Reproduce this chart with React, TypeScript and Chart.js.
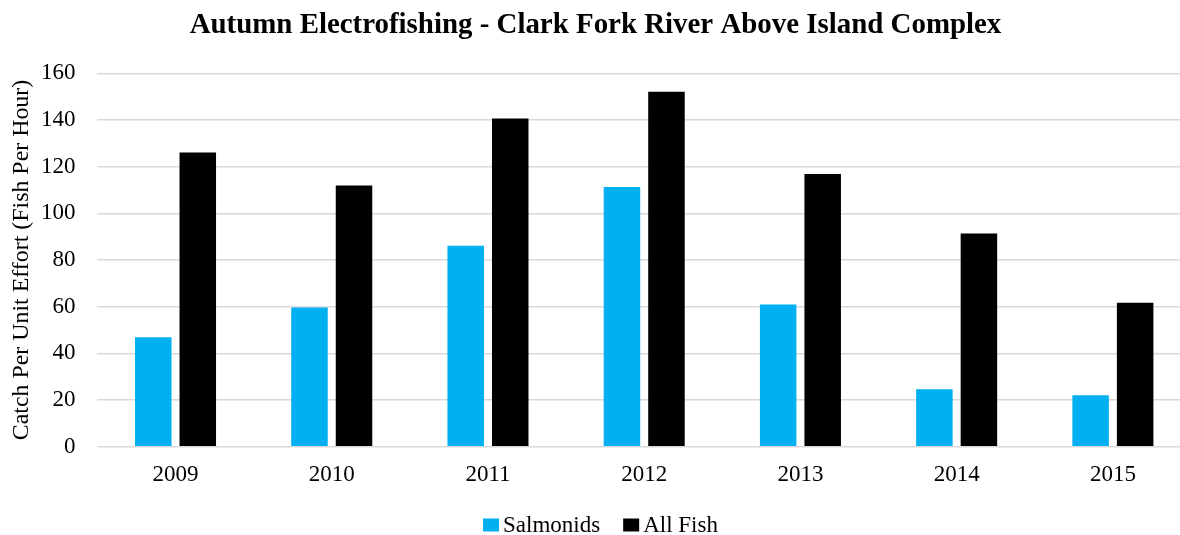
import React, { useEffect, useRef } from "react";
import { Chart, registerables } from "chart.js";

Chart.register(...registerables);

// Survey years and catch rates (fish per hour)
const years = ["2009", "2010", "2011", "2012", "2013", "2014", "2015"];
const salmonids = [46.9, 59.7, 86.1, 111.3, 60.9, 24.6, 22.1];
const allFish = [126.1, 111.9, 140.7, 152.1, 116.9, 91.4, 61.7];
const yTicks = { min: 0, max: 160, step: 20 };

const SERIF = "'Times New Roman', 'Liberation Serif', serif";

// Compact legend below the axis: square swatch, tight gap, then the label.
const bottomLegend = {
  id: "bottomLegend",
  afterDraw(chart: any) {
    const ctx = chart.ctx as CanvasRenderingContext2D;
    const font = `23px ${SERIF}`;
    const box = { w: 16, h: 13 };
    const textGap = 4;
    const itemGap = 23;
    const centerY = 525;
    ctx.save();
    ctx.font = font;
    const items = chart.data.datasets.map((ds: any) => ({
      text: ds.label as string,
      color: ds.backgroundColor as string,
      width: box.w + textGap + ctx.measureText(ds.label).width,
    }));
    const total =
      items.reduce((s: number, it: any) => s + it.width, 0) +
      itemGap * (items.length - 1);
    let x = chart.width / 2 - total / 2 + 5;
    ctx.textBaseline = "middle";
    ctx.textAlign = "left";
    for (const it of items) {
      ctx.fillStyle = it.color;
      ctx.fillRect(x, centerY - box.h / 2, box.w, box.h);
      ctx.fillStyle = "#000";
      ctx.fillText(it.text, x + box.w + textGap, centerY + 1);
      x += it.width + itemGap;
    }
    ctx.restore();
  },
};

export default function App() {
  const canvasRef = useRef<HTMLCanvasElement | null>(null);

  useEffect(() => {
    const canvas = canvasRef.current;
    if (!canvas) return;
    const chart = new Chart(canvas, {
      type: "bar",
      data: {
        labels: years,
        datasets: [
          {
            label: "Salmonids",
            data: salmonids,
            backgroundColor: "#00B0F0",
            borderWidth: 0,
            categoryPercentage: 0.57,
            barPercentage: 0.82,
          },
          {
            label: "All Fish",
            data: allFish,
            backgroundColor: "#000000",
            borderWidth: 0,
            categoryPercentage: 0.57,
            barPercentage: 0.82,
          },
        ],
      },
      plugins: [bottomLegend],
      options: {
        animation: false,
        responsive: false,
        maintainAspectRatio: false,
        layout: { padding: { left: 0, right: 0, top: 0, bottom: 41.5 } },
        plugins: {
          title: {
            display: true,
            text: "Autumn Electrofishing - Clark Fork River Above Island Complex",
            color: "#000",
            font: { family: SERIF, size: 28.9, weight: "bold" },
            padding: { top: 8.5, bottom: 30.2 },
          },
          legend: { display: false },
          tooltip: { enabled: false },
        },
        scales: {
          x: {
            grid: { display: false, drawTicks: false },
            border: { display: false },
            ticks: {
              color: "#000",
              font: { family: SERIF, size: 23 },
              padding: 14,
              maxRotation: 0,
            },
            afterFit: (scale: any) => {
              scale.height = 46.8;
            },
          },
          y: {
            min: yTicks.min,
            max: yTicks.max,
            grid: { color: "#d9d9d9", lineWidth: 1.5, drawTicks: false },
            border: { display: false },
            ticks: {
              stepSize: yTicks.step,
              color: "#000",
              font: { family: SERIF, size: 23 },
              padding: 22,
            },
            title: {
              display: true,
              text: "Catch Per Unit Effort (Fish Per Hour)",
              color: "#000",
              font: { family: SERIF, size: 23.9 },
              padding: { top: 7, bottom: 7 },
            },
            afterFit: (scale: any) => {
              scale.width = 97.4;
            },
          },
        },
      },
    });
    return () => chart.destroy();
  }, []);

  return (
    <div
      style={{
        position: "fixed",
        left: 0,
        top: 0,
        width: 1180,
        height: 535,
        overflow: "hidden",
        background: "#fff",
      }}
    >
      <div style={{ width: 1191, height: 535 }}>
        <canvas ref={canvasRef} width={1191} height={535} />
      </div>
    </div>
  );
}
